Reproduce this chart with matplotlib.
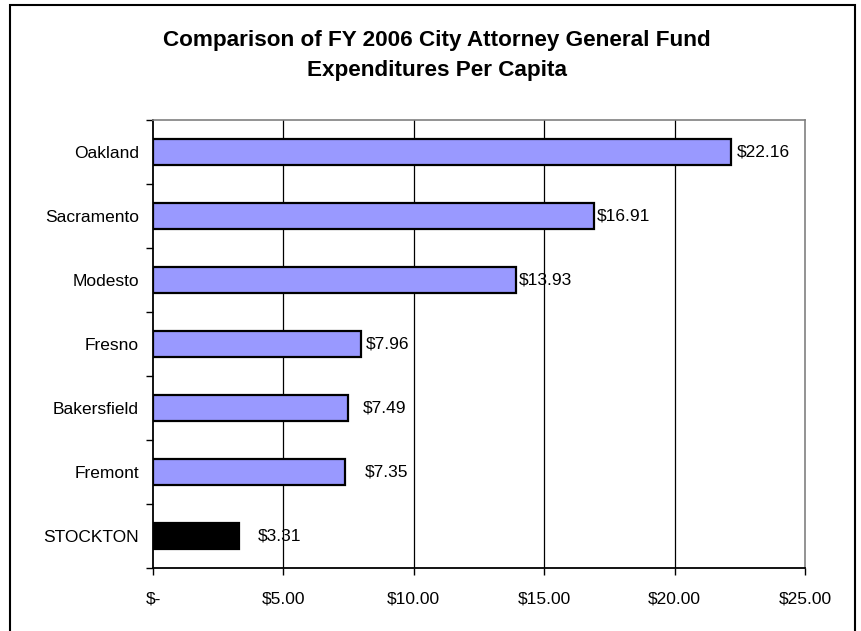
import matplotlib
matplotlib.use("Agg")
import matplotlib.pyplot as plt
from matplotlib.patches import Rectangle

plt.rcParams['font.family'] = ['Liberation Sans', 'DejaVu Sans']

# data
cities = ["Oakland", "Sacramento", "Modesto", "Fresno", "Bakersfield", "Fremont", "STOCKTON"]
per_capita = [22.16, 16.91, 13.93, 7.96, 7.49, 7.35, 3.31]
bar_colors = ["#9999ff"] * 6 + ["#000000"]
xticks = [0, 5, 10, 15, 20, 25]
xtick_labels = ["$-", "$5.00", "$10.00", "$15.00", "$20.00", "$25.00"]
title = "Comparison of FY 2006 City Attorney General Fund\nExpenditures Per Capita"

# label gap from bar end, in pixels (labels sit where the original placed them)
label_gap = [6, 3, 3, 5, 14, 20, 18]

W, H = 861, 631
fig = plt.figure(figsize=(W / 100, H / 100), dpi=100)
ax = fig.add_axes([153 / W, 1 - 568 / H, (805 - 153) / W, (568 - 120) / H])

ypos = list(range(len(cities)))
ax.barh(ypos, per_capita, height=0.41, color=bar_colors, edgecolor="black",
        linewidth=1.6, zorder=3)

for y, v, g in zip(ypos, per_capita, label_gap):
    ax.annotate(f"${v:.2f}", (v, y), xytext=(g * 0.72, 0), textcoords="offset points",
                va="center", ha="left", fontsize=12.5, zorder=4)

ax.set_xlim(0, 25)
ax.set_ylim(len(cities) - 0.5, -0.5)
ax.set_xticks(xticks)
ax.set_xticklabels(xtick_labels, fontsize=12.5)
ax.set_yticks(ypos)
ax.set_yticklabels(cities, fontsize=12.5)
ax.set_yticks([i - 0.5 for i in range(len(cities) + 1)], minor=True)
ax.tick_params(axis="y", which="major", length=0, pad=10)
ax.tick_params(axis="y", which="minor", length=5, width=1, direction="out")
ax.tick_params(axis="x", length=5, width=1, direction="out", pad=12)

for x in xticks[1:-1]:
    ax.axvline(x, color="black", linewidth=0.9, zorder=1)

ax.spines["left"].set_linewidth(1.3)
ax.spines["bottom"].set_linewidth(1.3)
ax.spines["top"].set_color("#808080")
ax.spines["right"].set_color("#808080")
ax.spines["top"].set_linewidth(1.2)
ax.spines["right"].set_linewidth(1.2)

fig.text(437 / W, 1 - 55.5 / H, title, ha="center", va="center",
         fontsize=16.2, fontweight="bold", linespacing=1.55)

# outer chart border
fig.patches.append(Rectangle((10 / W, -0.05), (855 - 10) / W, 1 - 5 / H + 0.05,
                             transform=fig.transFigure, fill=False,
                             edgecolor="black", linewidth=1.5))

fig.savefig("out.png", dpi=100)
